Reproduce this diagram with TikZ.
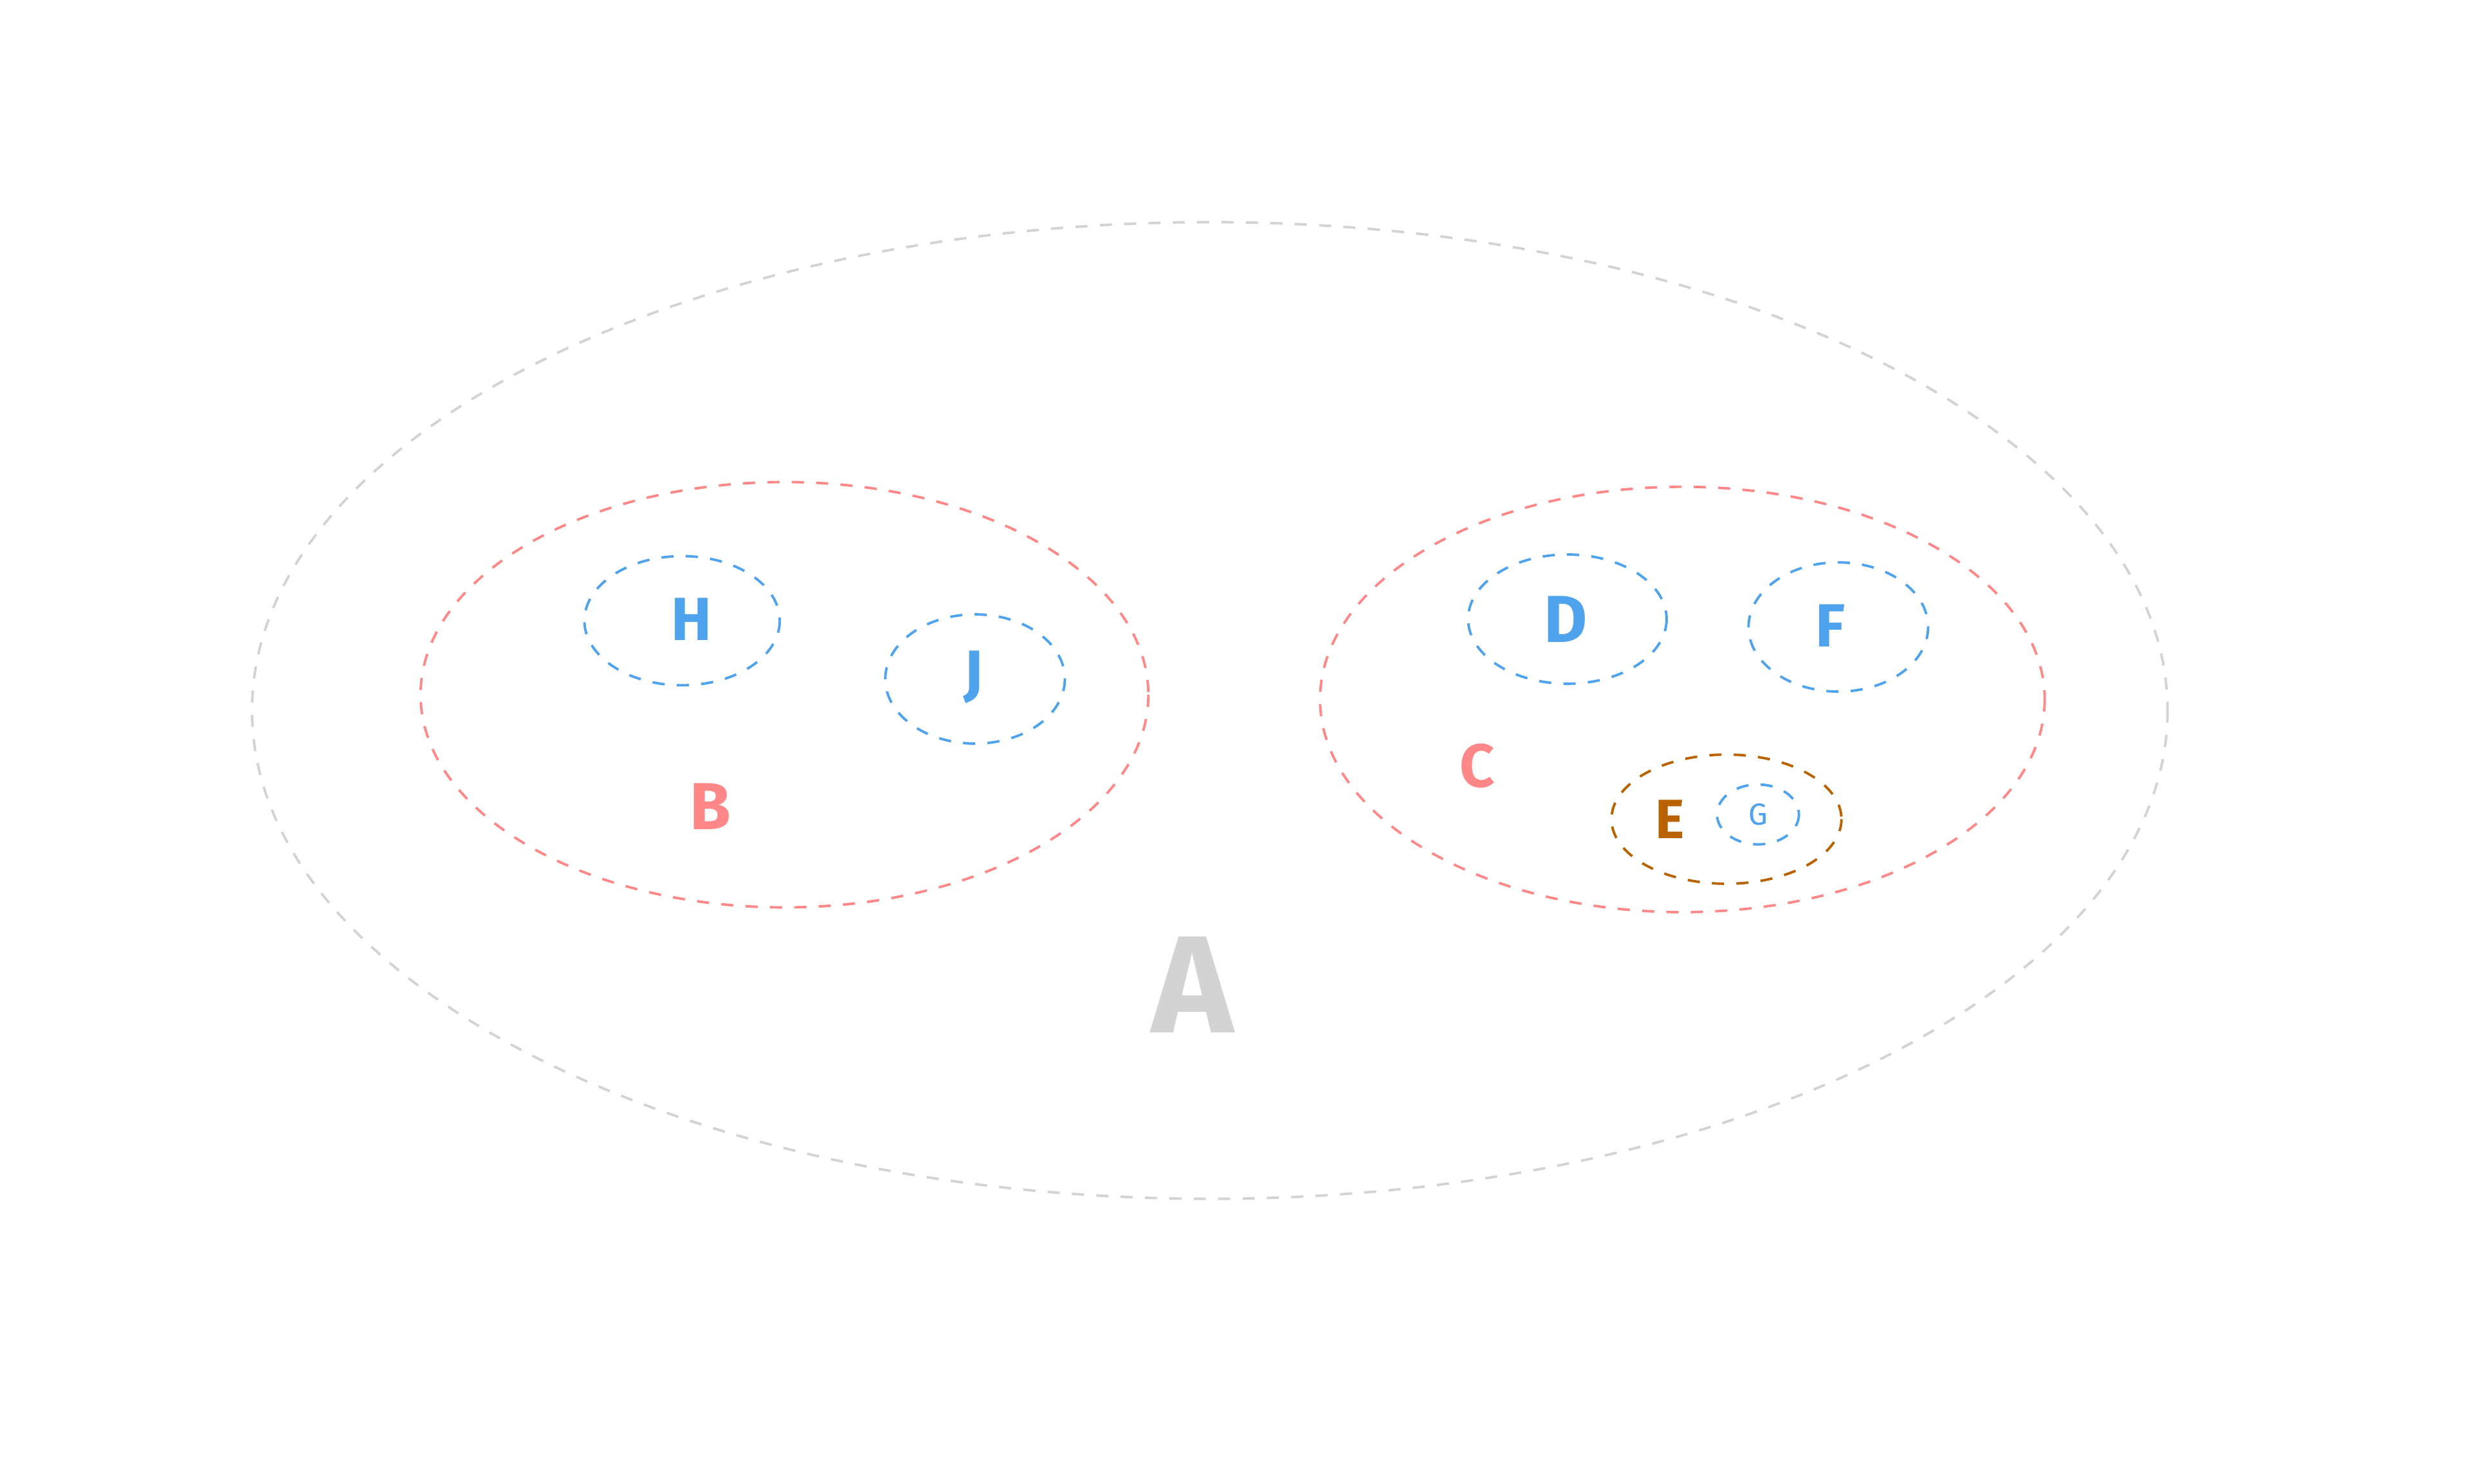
\documentclass[tikz,border=0pt]{standalone}
\usepackage{fontspec}
\setmainfont{Fira Sans}
\definecolor{setgray}{HTML}{D3D3D3}
\definecolor{setred}{HTML}{FF8787}
\definecolor{setblue}{HTML}{4FA3EC}
\definecolor{setbrown}{HTML}{B86200}
\tikzset{
    setline/.style={dashed, line width=0.45pt, dash pattern=on 2.2pt off 2.2pt},
    setlabel/.style={font=\bfseries, inner sep=0pt}
}
\begin{document}
\begin{tikzpicture}[x=0.01cm, y=-0.01cm]
        \useasboundingbox (0,0) rectangle (1568,942);
        % ── conjunto A ───────────────────────────────────────
        \draw[setline, setgray] (768,451) ellipse [x radius=608, y radius=310];
        \node[setlabel, setgray, font=\bfseries\fontsize{25}{25}\selectfont] (labA) at (757,625) {A};
        % ── conjunto B ───────────────────────────────────────
        \begin{scope}
            \draw[setline, setred] (498,441) ellipse [x radius=231, y radius=135];
            \node[setlabel, setred, font=\bfseries\fontsize{12}{12}\selectfont] (labB) at (451,512) {B};
            % subconjuntos H y J
            \draw[setline, setblue] (433,394) ellipse [x radius=62, y radius=41];
            \node[setlabel, setblue, font=\bfseries\fontsize{11}{11}\selectfont] (labH) at (439,393) {H};
            \draw[setline, setblue] (619,431) ellipse [x radius=57, y radius=41];
            \node[setlabel, setblue, font=\bfseries\fontsize{11}{11}\selectfont] (labJ) at (618,430) {J};
        \end{scope}
        % ── conjunto C ───────────────────────────────────────
        \begin{scope}
            \draw[setline, setred] (1068,444) ellipse [x radius=230, y radius=135];
            \node[setlabel, setred, font=\bfseries\fontsize{11}{11}\selectfont] (labC) at (938,486) {C};
            % subconjuntos D y F
            \draw[setline, setblue] (995,393) ellipse [x radius=63, y radius=41];
            \node[setlabel, setblue, font=\bfseries\fontsize{12}{12}\selectfont] (labD) at (994,393) {D};
            \draw[setline, setblue] (1167,398) ellipse [x radius=57, y radius=41];
            \node[setlabel, setblue, font=\bfseries\fontsize{11}{11}\selectfont] (labF) at (1162,397) {F};
            % E con G dentro
            \draw[setline, setbrown] (1096,520) ellipse [x radius=73, y radius=41];
            \node[setlabel, setbrown, font=\bfseries\fontsize{10}{10}\selectfont] (labE) at (1060,520) {E};
            \draw[setline, setblue] (1116,517) ellipse [x radius=26, y radius=19];
            \node[setlabel, setblue, font=\fontsize{5.5}{5.5}\selectfont] (labG) at (1116,517) {G};
        \end{scope}
    \end{tikzpicture}
\end{document}
